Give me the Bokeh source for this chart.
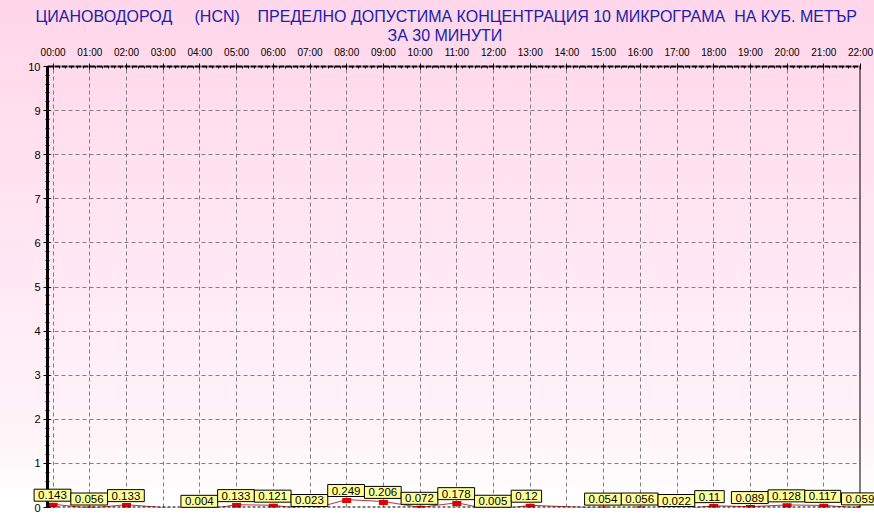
from bokeh.plotting import figure
from bokeh.models import (Range1d, FixedTicker, Title, ColumnDataSource, Span)
from bokeh.transform import dodge
from bokeh.core.properties import value as pvalue
from bokeh.embed import file_html
from bokeh.resources import INLINE

# ---- data ----
hour_labels = ["00:00", "01:00", "02:00", "03:00", "04:00", "05:00", "06:00", "07:00",
               "08:00", "09:00", "10:00", "11:00", "12:00", "13:00", "14:00", "15:00",
               "16:00", "17:00", "18:00", "19:00", "20:00", "21:00", "22:00"]
hours = list(range(23))
values = [0.143, 0.056, 0.133, None, 0.004, 0.133, 0.121, 0.023, 0.249, 0.206, 0.072,
          0.178, 0.005, 0.12, None, 0.054, 0.056, 0.022, 0.11, 0.089, 0.128, 0.117, 0.059]
y_ticks = list(range(11))
title_line1 = ("ЦИАНОВОДОРОД\u00a0\u00a0\u00a0\u00a0\u00a0(HCN)\u00a0\u00a0\u00a0\u00a0ПРЕДЕЛНО ДОПУСТИМА "
               "КОНЦЕНТРАЦИЯ 10 МИКРОГРАМА\u00a0\u00a0НА КУБ. МЕТЪР")
title_line2 = "ЗА 30 МИНУТИ"

valid_h = [h for h, v in zip(hours, values) if v is not None]
valid_v = [v for v in values if v is not None]
valid_t = [f"{v:g}" for v in valid_v]
src = ColumnDataSource(dict(hour=valid_h, value=valid_v, label=valid_t))

FONT = "Liberation Sans"

p = figure(width=874, height=529, output_backend="svg", toolbar_location=None,
           x_axis_location="above",
           x_range=Range1d(-0.153, 22), y_range=Range1d(0, 10),
           min_border_left=47, min_border_right=14, min_border_top=66, min_border_bottom=22)
p.styles = {"background-image": "linear-gradient(to bottom, #FFD6EA 0%, #FFF3F8 80%, #FFFFFF 96%)"}
p.border_fill_alpha = 0
p.background_fill_alpha = 0
p.outline_line_color = None

# titles
t2 = Title(text=title_line2, align="left", text_font=FONT, text_font_size="16px",
           text_font_style="normal", text_color="#2020A8", standoff=0, offset=340)
t1 = Title(text=title_line1, align="left", text_font=FONT, text_font_size="16px",
           text_font_style="normal", text_color="#2020A8", standoff=0, offset=-12)
p.add_layout(t2, "above")
p.add_layout(t1, "above")

# grid
p.xgrid.ticker = FixedTicker(ticks=hours)
p.ygrid.ticker = FixedTicker(ticks=y_ticks)
for g in (p.xgrid, p.ygrid):
    g.grid_line_color = "#808080"
    g.grid_line_dash = "4 3"
    g.grid_line_width = 1

# x axis (top)
xa = p.xaxis[0]
xa.ticker = FixedTicker(ticks=hours, minor_ticks=[h / 6 for h in range(0, 22 * 6 + 1)])
xa.major_label_overrides = {h: lab for h, lab in zip(hours, hour_labels)}
xa.major_label_text_font = FONT
xa.major_label_text_font_size = "10px"
xa.major_label_text_color = "#000000"
xa.major_label_standoff = 6
xa.axis_line_color = "black"
xa.axis_line_width = 2
xa.axis_line_dash = "6 1"
xa.major_tick_line_color = "black"
xa.major_tick_out = 3
xa.major_tick_in = 3
xa.minor_tick_line_color = "black"
xa.minor_tick_out = 0
xa.minor_tick_in = 2

# y axis
ya = p.yaxis[0]
ya.ticker = FixedTicker(ticks=y_ticks, minor_ticks=[i / 5 for i in range(51)])
ya.major_label_text_font = FONT
ya.major_label_text_font_size = "11px"
ya.major_label_text_color = "#000000"
ya.major_label_standoff = 3
ya.axis_line_color = "black"
ya.axis_line_width = 3
ya.major_tick_line_color = "black"
ya.major_tick_out = 4
ya.major_tick_in = 3
ya.minor_tick_line_color = "black"
ya.minor_tick_out = 2
ya.minor_tick_in = 2

# borders
p.add_layout(Span(location=0, dimension="width", line_color="black", line_width=2, line_dash="3 2"))
p.add_layout(Span(location=22, dimension="height", line_color="black", line_width=2))

# series
p.line(x="hour", y=dodge("value", -0.07, range=p.y_range), source=src,
       line_color="#C03030", line_width=1)
p.rect(x="hour", y=dodge("value", -0.09, range=p.y_range), width=9, height=5,
       width_units="screen", height_units="screen", source=src,
       fill_color="#E00000", line_color=None)

p.text(x="hour", y="value", text="label", source=src, level="overlay",
       x_offset=-19, y_offset=0, text_align="left", text_baseline="bottom",
       text_font=pvalue(FONT), text_font_size="11.5px", text_color="black",
       background_fill_color="#FFFF99", border_line_color="black",
       border_line_width=1, padding=(4, 2))

open("out.html", "w").write(file_html(p, INLINE))
